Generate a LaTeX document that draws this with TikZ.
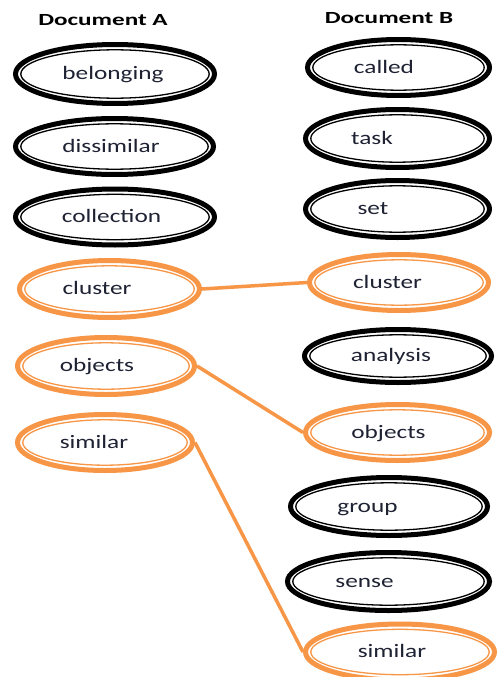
\documentclass[tikz,border=0pt]{standalone}
\usepackage{fontspec}
\setmainfont{Carlito}
\usetikzlibrary{shapes.geometric}
\definecolor{orng}{HTML}{F79646}
\definecolor{txtc}{HTML}{1E2233}
\tikzset{
  ringnode/.style={ellipse, draw=#1, line width=5pt, minimum width=10pt, minimum height=10pt, inner sep=0pt},
  wordnode/.style={anchor=mid, inner sep=0pt, text=txtc, font=\fontsize{19}{21}\selectfont},
  headnode/.style={anchor=mid, inner sep=0pt, text=black, font=\bfseries\fontsize{17}{20}\selectfont},
  linkline/.style={draw=orng, line width=3.5pt}
}
\begin{document}
\begin{tikzpicture}[x=1pt,y=-1pt]
\useasboundingbox[fill=white] (0,0) rectangle (496,677);
\node[headnode] (hA) at (103,23) {\scalebox{1.48}[1]{Document A}};
\node[headnode] (hB) at (389,21) {\scalebox{1.48}[1]{Document B}};
\foreach \nm/\cx/\cy/\w/\h/\col/\txt/\tx in {
  bA/115/74/199/59/black/belonging/113,
  dA/114.5/146.5/198/56/black/dissimilar/111,
  cA/115/217/199/56/black/collection/111.5,
  clA/109.5/289/180/57/orng/cluster/97,
  oA/106/366/177/57/orng/objects/97,
  sA/105/442.5/175/56/orng/similar/94,
  calB/398.5/67.5/182/56/black/called/384,
  tB/397.5/138.5/184/58/black/task/372,
  sB/397.5/209/184/57/black/set/373,
  clB/399/282.5/179/56/orng/cluster/387.5,
  aB/398/356/187/53/black/analysis/391,
  oB/397.5/432.5/184/56/orng/objects/388.5,
  gB/389/506.5/197/58/black/group/367.5,
  seB/388.5/581.5/202/58/black/sense/364.5,
  siB/400/652/189/56/orng/similar/392}
{
  \node[ringnode=\col, minimum width=\w pt, minimum height=\h pt] (\nm) at (\cx,\cy) {};
  \draw[\col, line width=1.3pt] (\nm.center) ellipse [x radius={(\w/2-5.3)*1pt}, y radius={(\h/2-5.3)*1pt}];
  \node[wordnode] (\nm-t) at (\tx,\cy+3.5) {\scalebox{1.33}[1]{\txt}};
}
\draw[linkline] (clA.east) -- (clB.west);
\draw[linkline] (oA.east) -- (oB.west);
\draw[linkline] (sA.east) -- (siB.west);
\end{tikzpicture}
\end{document}
